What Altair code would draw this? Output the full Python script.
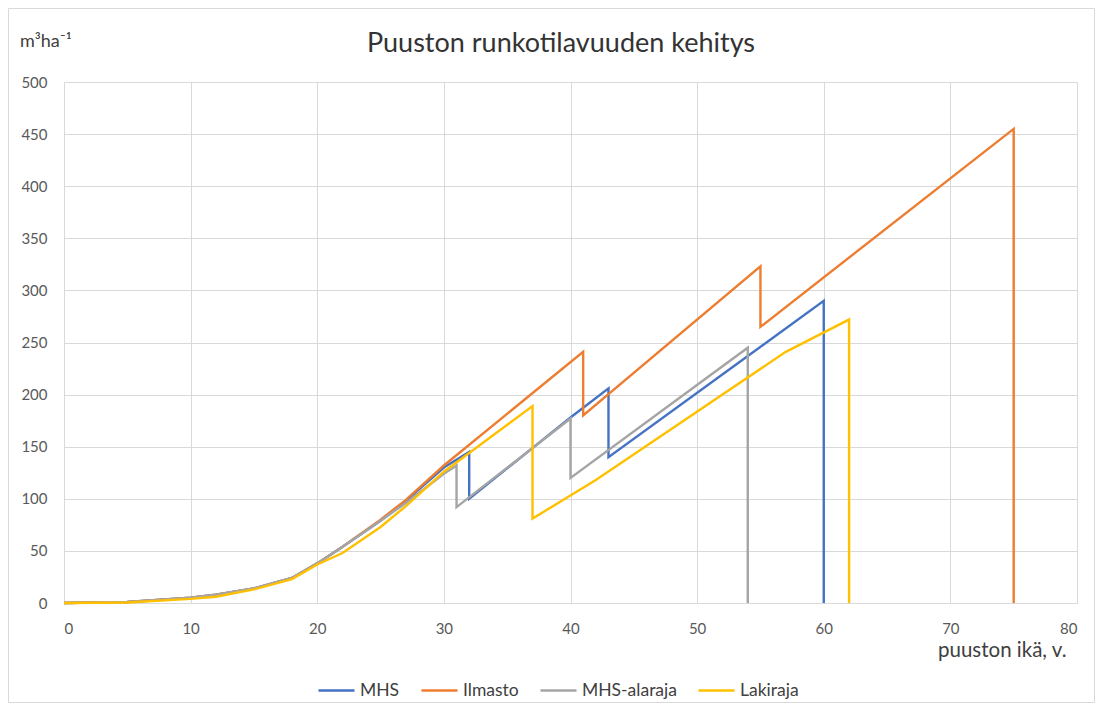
import altair as alt
import pandas as pd

series_names = ["MHS", "Ilmasto", "MHS-alaraja", "Lakiraja"]
series_colors = ["#4472C4", "#ED7D31", "#A5A5A5", "#FFC000"]

mhs_age = [0, 5, 10, 12, 15, 18, 20, 22, 25, 27, 30, 32, 32, 40, 43, 43, 60, 60]
mhs_vol = [0, 1, 5, 8, 14, 24, 38, 54, 79, 98, 130, 145, 100, 178, 206, 140, 290, 0]

ilm_age = [0, 5, 10, 12, 15, 18, 20, 22, 25, 27, 30, 41, 41, 55, 55, 75, 75]
ilm_vol = [0, 1, 5, 8, 14, 24, 38, 54, 80, 99, 132, 241, 180, 323, 265, 455, 0]

ala_age = [0, 5, 10, 12, 15, 18, 20, 22, 25, 27, 30, 31, 31, 40, 40, 54, 54]
ala_vol = [0, 1, 5, 8, 14, 24, 38, 54, 79, 96, 124, 132, 92, 177, 120, 245, 0]

laki_age = [0, 5, 10, 12, 15, 18, 20, 22, 25, 27, 30, 37, 37, 42, 57, 62, 62]
laki_vol = [0, 0.5, 4, 6, 13, 23, 37, 48, 73, 93, 126, 189, 81, 118, 241, 272, 0]

x_ticks = [0, 10, 20, 30, 40, 50, 60, 70, 80]
y_ticks = [0, 50, 100, 150, 200, 250, 300, 350, 400, 450, 500]

chart_title = "Puuston runkotilavuuden kehitys"
y_unit = "m³ha⁻¹"
x_title = "puuston ikä, v."

rows = []
for name, ages, vols in [
    ("MHS", mhs_age, mhs_vol),
    ("Ilmasto", ilm_age, ilm_vol),
    ("MHS-alaraja", ala_age, ala_vol),
    ("Lakiraja", laki_age, laki_vol),
]:
    for i, (a, v) in enumerate(zip(ages, vols)):
        rows.append({"sarja": name, "ika": a, "tilavuus": v, "i": i})
df = pd.DataFrame(rows)
one = pd.DataFrame({"d": [0]})

FONT = "Lato"
W, H = 1013, 521

frame = alt.Chart(one).mark_rect(
    fill="white", fillOpacity=0, stroke="#D9D9D9", strokeWidth=1, clip=False
).encode(
    x=alt.value(-55.5), x2=alt.value(W + 17.5),
    y=alt.value(-73.5), y2=alt.value(H + 99.5),
)

title_txt = alt.Chart(one).mark_text(
    font=FONT, fontSize=27, color="#333333", align="center", baseline="alphabetic"
).encode(x=alt.value(497), y=alt.value(-30), text=alt.value(chart_title))

unit_txt = alt.Chart(one).mark_text(
    font=FONT, fontSize=18, color="#404040", align="left", baseline="alphabetic"
).encode(x=alt.value(-44), y=alt.value(-35), text=alt.value(y_unit))

lines = alt.Chart(df).mark_line(strokeWidth=2.4, clip=False).encode(
    x=alt.X("ika:Q",
            scale=alt.Scale(domain=[0, 80], nice=False, zero=True),
            axis=alt.Axis(values=x_ticks, title=x_title,
                          grid=True, gridColor="#D9D9D9",
                          domainColor="#D9D9D9", ticks=False,
                          labelPadding=18, labelFontSize=15,
                          labelColor="#595959", labelFont=FONT,
                          titleFont=FONT, titleFontSize=20.5,
                          titleFontWeight="normal", titleColor="#404040",
                          titleAnchor="end", titleAlign="right",
                          titleX=W - 11, titleY=53, titleBaseline="alphabetic")),
    y=alt.Y("tilavuus:Q",
            scale=alt.Scale(domain=[0, 500], nice=False),
            axis=alt.Axis(values=y_ticks, title=None,
                          grid=True, gridColor="#D9D9D9",
                          domain=False, ticks=False,
                          labelPadding=17, labelFontSize=15,
                          labelColor="#595959", labelFont=FONT)),
    color=alt.Color("sarja:N",
                    scale=alt.Scale(domain=series_names, range=series_colors),
                    sort=series_names,
                    legend=alt.Legend(title=None, orient="none",
                                      direction="horizontal",
                                      legendX=253, legendY=589,
                                      symbolType="stroke", symbolStrokeWidth=2.4,
                                      symbolSize=1300, labelFontSize=17.5,
                                      labelFont=FONT, labelColor="#404040",
                                      labelOffset=4, columnPadding=16)),
    order=alt.Order("i:Q"),
)

chart = alt.layer(frame, lines, title_txt, unit_txt).properties(
    width=W, height=H,
    autosize=alt.AutoSizeParams(type="none"),
    padding={"left": 56, "top": 74, "right": 18, "bottom": 100},
).configure_view(stroke=None).configure(background="white")

chart.save("out.html", embed_options={"renderer": "svg", "actions": False})
